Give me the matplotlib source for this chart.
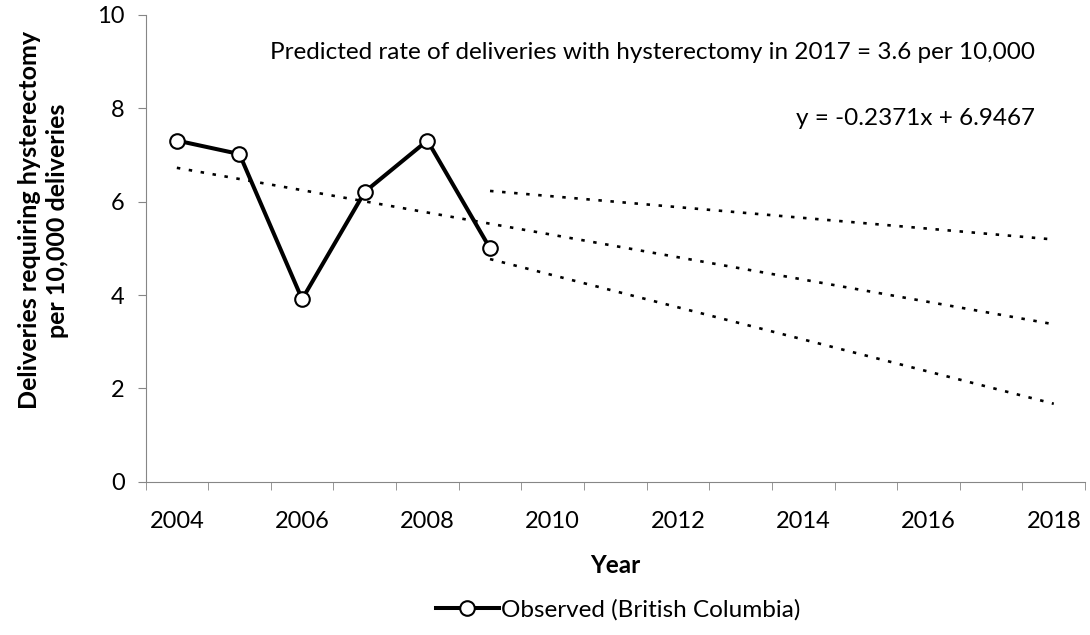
import numpy as np
import matplotlib
matplotlib.use("Agg")
import matplotlib.pyplot as plt
from matplotlib.lines import Line2D

# Observed rate per 10,000 deliveries
obs_years = [2004, 2005, 2006, 2007, 2008, 2009]
obs_rate = [7.31, 7.02, 3.91, 6.21, 7.31, 5.00]

# Forecast range
all_years = list(range(2004, 2019))
tick_years = [2004, 2006, 2008, 2010, 2012, 2014, 2016, 2018]

# Upper / lower bound lines (read at 2009 and 2018)
bound_years = [2009, 2018]
upper_rate = [6.23, 5.19]
lower_rate = [4.77, 1.67]

plt.rcParams['font.family'] = ['Lato', 'DejaVu Sans']
plt.rcParams['lines.scale_dashes'] = False

fig = plt.figure(figsize=(10.9, 6.35), dpi=100)
ax = fig.add_axes([0.1335, 0.2414, 0.862, 0.735])

x0 = all_years[0]
xo = np.array(obs_years) - x0
xa = np.array(all_years) - x0
xb = np.array(bound_years) - x0

# Linear trend through the observed points, extended to 2018
p = np.polyfit(xo + 1, obs_rate, 1)
trend = np.poly1d(p)

dot = (0, (2.5, 6.2))
ax.plot(xa, trend(xa + 1), color='black', lw=1.9, linestyle=dot)
ax.plot(xb, upper_rate, color='black', lw=1.9, linestyle=dot)
ax.plot(xb, lower_rate, color='black', lw=1.9, linestyle=dot)

ax.plot(xo, obs_rate, color='black', lw=2.9, marker='o', ms=10.5,
        mfc='white', mec='black', mew=1.5, zorder=5)

ax.set_xlim(-0.5, 14.5)
ax.set_ylim(0, 10)
ax.set_yticks([0, 2, 4, 6, 8, 10])

ax.set_xticks(np.array(tick_years) - x0)
ax.set_xticklabels([str(y) for y in tick_years])
ax.set_xticks(np.arange(-0.5, 15, 1), minor=True)
ax.tick_params(axis='x', which='major', length=0, pad=21, labelsize=17)
ax.tick_params(axis='x', which='minor', length=6, color='#868686')
ax.tick_params(axis='y', length=6, color='#868686', pad=9, labelsize=17)

for s in ['top', 'right']:
    ax.spines[s].set_visible(False)
for s in ['left', 'bottom']:
    ax.spines[s].set_color('#868686')

ax.set_xlabel("Year", fontsize=17.5, fontweight='bold', labelpad=16)
fig.text(0.040, 0.653, "Deliveries requiring hysterectomy\nper 10,000 deliveries",
         rotation=90, ha='center', va='center', fontsize=18, fontweight='bold',
         multialignment='center', linespacing=1.25)

fig.text(0.95, 0.918, "Predicted rate of deliveries with hysterectomy in 2017 = 3.6 per 10,000",
         ha='right', va='center', fontsize=17.5)
fig.text(0.95, 0.814, "y = -0.2371x + 6.9467", ha='right', va='center', fontsize=17.5)

handle = Line2D([], [], color='black', lw=2.9, marker='o', ms=10.5,
                mfc='white', mec='black', mew=1.5)
fig.legend([handle], ["Observed (British Columbia)"], loc='center',
           bbox_to_anchor=(0.567, 0.04), frameon=False, fontsize=17.5,
           handlelength=2.6, handletextpad=0.1)

fig.savefig("out.png", dpi=100)
